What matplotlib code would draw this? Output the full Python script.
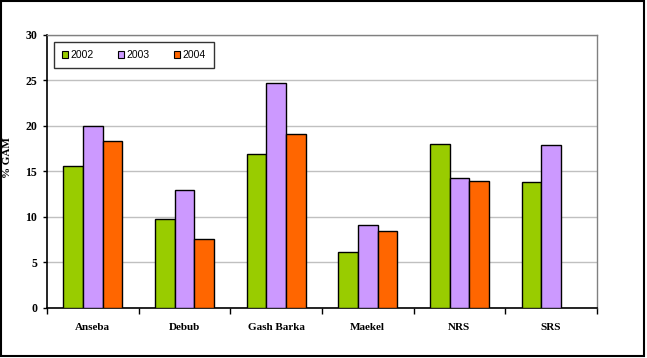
import matplotlib
matplotlib.use("Agg")
import matplotlib.pyplot as plt
import numpy as np
from matplotlib.patches import Patch, Rectangle

regions = ["Anseba", "Debub", "Gash Barka", "Maekel", "NRS", "SRS"]
years = ["2002", "2003", "2004"]
gam_2002 = [15.6, 9.8, 16.9, 6.1, 18.0, 13.8]
gam_2003 = [20.0, 13.0, 24.7, 9.1, 14.3, 17.9]
gam_2004 = [18.4, 7.6, 19.1, 8.5, 13.9, np.nan]
y_ticks = [0, 5, 10, 15, 20, 25, 30]

COLORS = ["#99CC00", "#CC99FF", "#FF6600"]
SERIF = ["Liberation Serif", "DejaVu Serif"]
SANS = ["Liberation Sans", "DejaVu Sans"]

fig = plt.figure(figsize=(6.47, 3.58), dpi=100)
fig.patches.append(Rectangle((0.002, 0.006), 0.994, 0.99, transform=fig.transFigure,
                             fill=False, edgecolor="black", linewidth=1.5))
ax = fig.add_axes([0.0726, 0.1397, 0.850, 0.7626])

x = np.arange(len(regions))
w = 0.215
for i, vals in enumerate([gam_2002, gam_2003, gam_2004]):
    ax.bar(x + (i - 1) * w, vals, width=w, color=COLORS[i],
           edgecolor="black", linewidth=1.0, zorder=3)

ax.set_xlim(-0.5, len(regions) - 0.5)
ax.set_ylim(0, 30)
ax.set_yticks(y_ticks)
ax.set_yticklabels([str(t) for t in y_ticks], fontfamily=SERIF,
                   fontweight="bold", fontsize=8.5)
ax.yaxis.grid(True, color="#C0C0C0", linewidth=1.0, zorder=0)

# category ticks between groups, labels at centres
ax.set_xticks(np.arange(-0.5, len(regions), 1.0))
ax.set_xticklabels([])
ax.set_xticks(x, minor=True)
ax.set_xticklabels(regions, minor=True, fontfamily=SERIF,
                   fontweight="bold", fontsize=8)
ax.tick_params(axis="x", which="minor", length=0, pad=11)
ax.tick_params(axis="x", which="major", length=4, width=1, color="black")
ax.tick_params(axis="y", length=3, width=1, color="black", pad=4)

for side in ["top", "right"]:
    ax.spines[side].set_color("#808080")
    ax.spines[side].set_linewidth(1.0)
for side in ["left", "bottom"]:
    ax.spines[side].set_color("black")
    ax.spines[side].set_linewidth(1.2)

fig.text(8 / 647, 1 - 158 / 358, "% GAM", rotation=90, ha="center", va="center",
         fontfamily=SERIF, fontweight="bold", fontsize=8)

handles = [Patch(facecolor=c, edgecolor="black", linewidth=0.8) for c in COLORS]
leg = ax.legend(handles, years, loc="upper left", bbox_to_anchor=(0.013, 0.974),
                ncol=3, frameon=True, fancybox=False, borderaxespad=0,
                handlelength=0.6, handleheight=0.6, handletextpad=0.25,
                columnspacing=2.3, borderpad=0.75,
                prop={"family": SANS, "size": 7.5})
leg.get_frame().set_edgecolor("black")
leg.get_frame().set_linewidth(1.0)

fig.savefig("out.png", dpi=100)
